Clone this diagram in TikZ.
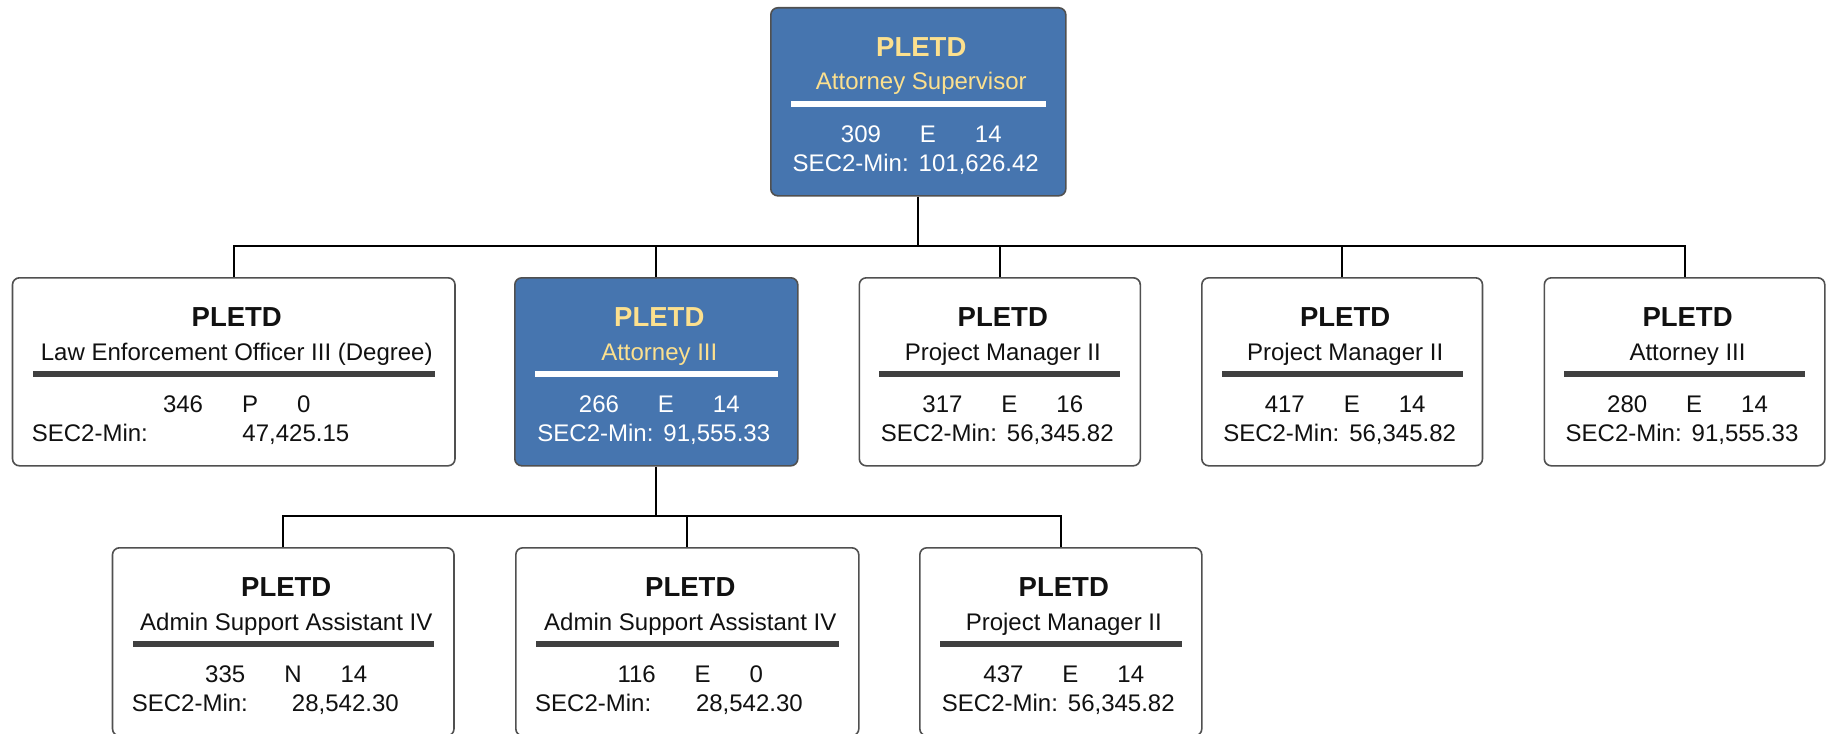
\documentclass[tikz,border=0pt]{standalone}
\usepackage{fontspec}
\setmainfont{Liberation Sans}
\definecolor{boxblue}{HTML}{4675AF}
\definecolor{headyellow}{HTML}{FCE08E}
\definecolor{bordergray}{HTML}{505050}
\definecolor{bargray}{HTML}{404040}
\definecolor{inkdark}{HTML}{111111}
\tikzset{
  orgframe/.style={draw=bordergray, line width=1.6pt, rounded corners=7pt, minimum height=188pt, inner sep=0pt, anchor=north west},
  blue-box/.style={orgframe, fill=boxblue},
  white-box/.style={orgframe, fill=white},
  blue-head/.style={text=headyellow},
  white-head/.style={text=inkdark},
  blue-body/.style={text=white},
  white-body/.style={text=inkdark},
  blue-bar/.style={fill=white},
  white-bar/.style={fill=bargray},
  titletext/.style={anchor=base, inner sep=0pt, font=\fontsize{27.5}{30}\selectfont\bfseries},
  bodytext/.style={inner sep=0pt, font=\fontsize{24}{28}\selectfont},
  barline/.style={inner sep=0pt, minimum height=5.5pt, draw=none},
  conn/.style={draw=black, line width=2pt},
}
\newcommand{\gapp}{\hspace{39pt}}
% #1 name, #2 x, #3 y, #4 width, #5 kind, #6 subtitle, #7 #8 #9 row
\newcommand{\orgbox}[9]{%
  \node[#5-box, minimum width=#4pt] (#1) at (#2,#3) {};
  \node[titletext, #5-head] (#1-t) at ([xshift=3pt,yshift=-49.4pt]#1.north) {PLETD};
  \node[bodytext, #5-head, anchor=base] (#1-s) at ([xshift=3pt,yshift=-83pt]#1.north) {#6};
  \node[barline, #5-bar, minimum width=#4pt-40pt] (#1-bar) at ([yshift=-97pt]#1.north) {};
  \node[bodytext, #5-body, anchor=base] (#1-r) at ([xshift=3pt,yshift=-135.6pt]#1.north) {#7\gapp#8\gapp#9};
}
\newcommand{\secmid}[3]{%
  \node[bodytext, #2-body, anchor=base] (#1-m) at ([xshift=-2.5pt,yshift=-164pt]#1.north) {SEC2-Min:\hspace{10pt}#3};
}
\newcommand{\secsplit}[3]{%
  \node[bodytext, #2-body, anchor=base west] (#1-l) at ([xshift=20pt,yshift=-164pt]#1.north west) {SEC2-Min:};
  \node[bodytext, #2-body, anchor=base west] (#1-m) at ([xshift=8.5pt,yshift=-164pt]#1.north) {#3};
}
\begin{document}
\begin{tikzpicture}[x=1pt,y=-1pt]
\useasboundingbox[fill=white] (0,0) rectangle (1827,733);
\orgbox{top}{770}{7}{295}{blue}{Attorney Supervisor}{309}{E}{14}
\secmid{top}{blue}{101,626.42}
\orgbox{b1}{11.7}{277}{442.5}{white}{Law Enforcement Officer III (Degree)}{346}{P}{0}
\secsplit{b1}{white}{47,425.15}
\orgbox{b2}{514}{277}{283}{blue}{Attorney III}{266}{E}{14}
\secmid{b2}{blue}{91,555.33}
\orgbox{b3}{858.5}{277}{281}{white}{Project Manager II}{317}{E}{16}
\secmid{b3}{white}{56,345.82}
\orgbox{b4}{1201}{277}{280.7}{white}{Project Manager II}{417}{E}{14}
\secmid{b4}{white}{56,345.82}
\orgbox{b5}{1543.5}{277}{280.5}{white}{Attorney III}{280}{E}{14}
\secmid{b5}{white}{91,555.33}
\orgbox{c1}{111.7}{547}{341.5}{white}{Admin Support Assistant IV}{335}{N}{14}
\secsplit{c1}{white}{28,542.30}
\orgbox{c2}{515}{547}{343}{white}{Admin Support Assistant IV}{116}{E}{0}
\secsplit{c2}{white}{28,542.30}
\orgbox{c3}{919}{547}{282}{white}{Project Manager II}{437}{E}{14}
\secmid{c3}{white}{56,345.82}
\coordinate (bus1) at (917.5,246);
\coordinate (bus2) at (655.5,515.5);
\draw[conn] (top.south) -- (top.south |- bus1);
\draw[conn] (b1.north) |- (b5.north |- bus1) -- (b5.north);
\foreach \c in {b2,b3,b4} \draw[conn] (\c.north) -- (\c.north |- bus1);
\draw[conn] (b2.south) -- (b2.south |- bus2);
\draw[conn] (c1.north) |- (c3.north |- bus2) -- (c3.north);
\draw[conn] (c2.north) -- (c2.north |- bus2);
\end{tikzpicture}
\end{document}
